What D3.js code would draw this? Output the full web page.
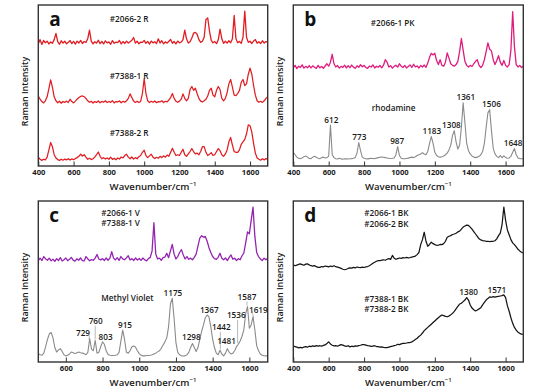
<!DOCTYPE html>
<html><head><meta charset="utf-8">
<script src="https://cdn.jsdelivr.net/npm/d3@7/dist/d3.min.js"></script>
<style>body{margin:0;background:#fff}svg{display:block}text{font-family:"Open Sans",sans-serif}</style>
</head><body><svg id="chart" width="554" height="392"></svg>
<script>
// ---- wavenumber grids (cm^-1) ----
const waveNumbers = [
400,410,420,430,440,450,460,470,480,490,
500,510,520,530,540,550,560,570,580,590,
600,610,620,630,640,650,660,670,680,690,
700,710,720,730,740,750,760,770,780,790,
800,810,820,830,840,850,860,870,880,890,
900,910,920,930,940,950,960,970,980,990,
1000,1010,1020,1030,1040,1050,1060,1070,1080,1090,
1100,1110,1120,1130,1140,1150,1160,1170,1180,1190,
1200,1210,1220,1230,1240,1250,1260,1270,1280,1290,
1300,1310,1320,1330,1340,1350,1360,1370,1380,1390,
1400,1410,1420,1430,1440,1450,1460,1470,1480,1490,
1500,1510,1520,1530,1540,1550,1560,1570,1580,1590,
1600,1610,1620,1630,1640,1650,1660,1670,1680,1690,
1700];
const waveNumbersC = waveNumbers.slice(5); // 450 .. 1700

// ---- panel a : red samples ----
const red2066_2 = [
76,78.5,75.5,78,76.5,77.5,75.8,77,76.2,78.5,
82.3,77.2,75.6,77.8,76.3,77.5,75.9,76.8,77.9,76,
77.4,75.7,77.6,76.4,78,76.1,77.3,76.8,79,84.4,
77.5,75.8,77.2,76.3,78.1,76,77.4,75.9,77.7,76.5,
77.1,75.6,77.9,76.2,77,76.6,78,75.8,77.3,76.1,
77.6,76.4,77.2,78.1,79.8,76.3,77.5,75.9,77,76.8,
78,76.2,77.4,75.7,77.6,76.5,77.2,76,79,76.4,
77.8,75.9,77.1,76.3,77.5,78.6,76.2,77.3,75.8,77.6,
76.5,77,78.5,84.4,79,76.4,77.2,79.5,82.5,83,
81.8,78.5,76.8,77.5,80,91,92,84,78,76.5,
77.3,76,78.5,85,79,76.2,77.5,76.3,77.8,76.5,
79,93.5,79,76.6,77.4,76.2,80,96.2,80,76.8,
77.5,76.1,77.6,78.5,76.3,77.2,76,77.8,76.4,77.3,
76.8];
const red7388_1 = [
43.5,41.5,40,39.2,40.5,43,48,53.5,49,43,
40.5,39.3,40.2,39,40.1,39.5,40.3,39.4,41.5,40,
39.2,40.3,41.5,42.5,43.2,43.5,43,42,40.5,39.6,
40.2,39.1,40,39.5,40.4,39.3,40.1,39.6,40.5,39.4,
40.1,39.5,40.6,39.2,40,39.8,40.4,39.3,40.2,39.6,
40.5,42,44.8,42.5,40.3,39.5,40.2,39.4,40.1,45,
54.2,45,40.5,39.4,40.2,39.6,40.4,39.3,40,39.8,
40.5,39.4,40.2,39.8,41,42.5,45,42,40.2,39.6,
40.3,41.5,44.8,42,40.5,42,47.5,49.4,47,48.3,
45,42,40.3,39.8,40.5,41.5,43.5,47,48.3,44,
43,47,49.4,47.5,42,40.5,42,45.5,51,53.75,
49,44,43.75,45,47,52,53.75,50,51,57,
60.8,57,50,44,40.5,39.6,40.2,39.5,40.5,42,
43];
const red7388_2 = [
5.5,4.2,3.5,4.2,3.8,5.5,10,14.6,12,7,
5,4,3.5,4.2,3.6,4.3,3.8,4.5,3.7,4.4,
3.9,4.6,5.2,6,7.3,6.2,7,5.5,4.2,4.8,
4,4.5,5.5,7,8.7,6,4.5,5.2,4.3,5,
4.2,5.5,4.1,4.8,3.9,5,4.3,5.6,5,6.5,
7.3,5.5,4.5,5.6,4.3,5.2,4.5,5.8,6.5,8.5,
9.8,6.5,5.2,6.3,7.3,5.5,4.6,5.4,4.8,6,
5.2,6.3,5.5,6.8,6,8.5,11,8.5,6.5,7,
6.5,8.5,10.4,7,6,7.5,9,10.8,9,7.5,
8,7,9,12,12,8.5,6.5,7.3,8.3,6.5,
7,9,10.8,9.5,7,6,7.5,10,15,17.7,
13,9,8.5,8.4,10,13.5,15,16.5,20,25.6,
25,21,14,8,5,4.2,3.6,4.5,3.8,4.6,
4];

// ---- panel b : pink sample and rhodamine reference ----
const pink2066_1 = [
61,62.5,60.5,62,61.2,62.8,60.8,61.9,61,62.4,
60.9,62.2,61.3,60.6,62.5,61,61.8,60.7,62.1,63.5,
62,64.5,69.4,63.5,61.5,62.4,60.8,61.9,61.2,62.6,
60.9,62.3,61.1,62.7,61.4,60.7,62.2,61.3,62.9,61.6,
62.5,61.2,60.6,62.1,61.5,62.8,60.9,62,61.3,62.4,
61,62.6,66,64.5,61.5,62.3,60.8,61.9,62.6,61.4,
63.5,62,61.2,62.5,60.9,61.8,62.8,61.2,63.2,61.6,
62.1,60.9,62.4,61.5,62.7,61.3,64,67.5,70,69,
70,65.5,63,66,62.5,62,64.5,70.2,67,63.5,
62.5,62,63,65,71,79.2,72,65,62.5,61.5,
62.5,61.8,63.5,65,66,62.5,61.2,62.5,66,71,
76.5,72.5,71.5,66,63,65.5,68.5,64.5,62.5,65.5,
62.5,61.5,63,72,95.8,74,63,61.5,62.4,61.2,
62];
const rhodamine = [
8.5,7,5.5,4.8,4.6,5,5.8,6.2,5.5,4.7,
4.6,5.5,6,5.5,4.8,4.5,5.2,5.5,5,5.2,
6,25.4,7,5.2,4.5,4.3,4.8,4.4,4.2,4.5,
4.4,4.3,4.5,4.6,4.8,5.2,8,14.6,9.5,5.5,
4.8,4.5,4.4,4.6,4.8,4.7,4.6,4.9,5.2,5.4,
5.6,5.4,5.2,5,4.8,4.7,4.8,5,7,12.1,
6.5,4.8,4.6,4.5,4.7,4.9,5.2,5.5,5.2,5.8,
6.5,7,7.5,8.2,7.5,7,9,14,18.3,14,
8.5,6.5,5.8,5.5,5.8,6.2,7,8,10,13,
19,21.9,15,10.5,13,24,39.2,27,14,9.5,
7.5,6.2,5.5,5.2,5.5,6,7,9,14,24,
33,35,22,11,7.5,6,5.2,6.5,5.2,6.3,
5.3,4.8,5,6,8.5,10.8,7,5,4.6,4.5,
4.5];
const rhodaminePeaks = [612,773,987,1183,1308,1361,1506,1648];

// ---- panel c : violet sample and methyl violet reference (450..1700) ----
const violet2066_7388 = [
63,64.5,63,65.5,64,
63.2,64.5,62.8,63.9,62.5,64.2,63,64.8,62.7,63.5,
64.6,62.9,63.8,65,63.3,62.6,64.1,63.2,64.7,63,
62.8,65.5,64,62.9,63.6,63.2,64.5,66.8,64,63.4,
64.2,63,64.6,63.2,64.5,68.5,64.5,63.4,64.8,63.1,
65.5,64,63.5,64.7,66,63.4,64.2,63,64.6,63.3,
64.3,63.1,64.6,63.4,62.8,64.2,65,69,86.5,67,
64,64.5,63.2,64.8,65.2,67.5,64.8,69,73,67,
64,65.5,68,69.8,66.5,64,65.5,63.8,64.5,63.5,
65,67,72,77,78.5,77.5,78,75,71,68,
65.5,64.2,63.8,65,67.5,64.5,63.5,64.6,63,65,
66.5,63.8,64.5,63,64.2,63.5,66,67.7,74,80.8,
79.6,88,96.2,78,68,65.5,64,63,64.5,63.5,
64.5];
const methylViolet = [
5.2,4.5,4.2,5.5,9.5,
14,17.5,18.3,15,9,6.2,7.5,8.3,6.5,4.5,
3.8,4.2,5,6.2,5.8,5.2,5.8,6.2,5.8,5.5,
5.2,4.5,6,14.6,8,7,13.5,5.5,6,9.5,
12.5,11,7,4.6,4.2,4,4,4.2,4.5,6,
13,19.8,14,6,5.5,7,9.5,10,9.2,7,
5.2,4.2,3.8,3.8,4,4,4.2,4.5,5,5.5,
6.3,7,8.5,10.5,12.5,15,22,36,39.6,27,
12,6,4.5,3.8,3.7,3.8,4.5,6,9,11.5,
9,6.5,9,14,19,23,27.5,29.2,28,22,
14,9,5.5,4.5,7.3,5,3.8,5.5,8.3,6,
5,5.5,7,9.5,11,13,16,20,30,34.4,
21,23,28,20,10,7,5,4.2,3.9,3.8,
3.8];
const methylVioletPeaks = [729,760,803,915,1175,1298,1367,1442,1481,1536,1587,1619];

// ---- panel d : black samples ----
const black2066 = [
60.4,59.8,60.2,60.6,60.9,60.5,60.1,60.8,61,60.3,
59.8,59.5,59.9,59.2,58.8,58.75,59.3,59.1,59.6,59.4,
59.1,59.6,59.3,59.8,59.2,58.9,58.6,58.2,57.6,57.3,
57.6,58.1,58.5,58.3,58.8,58.5,59,58.75,58.6,58.9,
58.7,59.1,59.3,59.8,60.5,61.3,62,62.6,63,62.9,
63.3,63.5,63.2,63.8,64.2,63.7,66.2,64.5,63.8,64.2,
64.6,64.4,64.8,64.6,65,64.7,64.9,65.2,65.5,65.8,
66.7,68,72.9,76,80.6,75,71.9,73,74.4,73.5,
72.9,72.5,72.6,73,72.9,73.5,75,77.5,78.1,78.5,
79.2,79.5,80,80.8,81.25,82.5,83.8,84.5,85,84.8,
83.75,82.5,81,79.5,78,76.5,75.8,75.4,75.2,75,
75,74.8,75,75,75.3,76.5,78.5,80,85.4,96.25,
88,82,79,76,74,72.9,71.5,70,69,68.2,
67.7];
const black7388 = [
10,9.5,9.2,8.8,9.1,8.75,9.3,9.6,9.2,9.8,
9.6,10,9.7,10.2,9.9,10.1,9.8,10.3,10.6,11.5,
12.5,11.2,10.4,10,10.2,9.8,10.3,10.8,10.5,10,
9.7,10.1,9.4,9.8,9.6,10,9.9,10.2,10.4,10.8,
10.8,10.5,10.2,10,9.7,9.9,10.1,9.6,9.5,9.2,
9.4,9.1,9,8.9,9.2,9.5,9.8,10.2,10.4,11,
10.8,11.3,11.6,11.5,11.8,12,12.1,12.5,13.2,14,
14.8,15.8,16.7,18,19.5,20.5,21.5,22.5,23.5,24.5,
25.5,26.5,27.5,28.5,29.2,28.8,28.3,28.1,28.5,29.3,
30.2,31.5,33,34.5,36,36.5,37.5,38.5,40,38.5,
35.4,33.5,32.5,31.7,32.3,33,33.75,35.5,37,38.5,
39.5,40.4,40.2,40.6,40.3,40.6,40.8,41,41.2,41.7,
40,35,31.5,27.5,24,21.5,19.8,18.5,17.8,17.3,
17.1];
const blackPeaks = [1380,1571];

const ticksAB = [400,600,800,1000,1200,1400,1600];
const ticksC = [600,800,1000,1200,1400,1600];

// ---------------- drawing ----------------
const svg = d3.select("#chart");
const C = {red:"#e11d22", pink:"#df1b7c", purple:"#9424b0", gray:"#8a8a8a", black:"#151515", frame:"#333", text:"#1a1a1a"};

const panels = [
  {letter:"a", x0:38.3, y0:5, x1:267.7, y1:166, domain:[400,1700], ticks:ticksAB,
   series:[[waveNumbers,red2066_2,C.red,1.3],[waveNumbers,red7388_1,C.red,1.25],[waveNumbers,red7388_2,C.red,1.25]],
   labels:[["#2066-2 R",71.5,14.2],["#7388-1 R",71.5,71],["#7388-2 R",71.5,127.5]]},
  {letter:"b", x0:293.3, y0:5, x1:523.3, y1:166, domain:[400,1700], ticks:ticksAB,
   series:[[waveNumbers,pink2066_1,C.pink,1.3],[waveNumbers,rhodamine,C.gray,1.1]],
   labels:[["#2066-1 PK",77.5,18.3],["rhodamine",78.5,102.5]]},
  {letter:"c", x0:38.3, y0:201, x1:267.7, y1:362, domain:[450,1700], ticks:ticksC,
   series:[[waveNumbersC,violet2066_7388,C.purple,1.3],[waveNumbersC,methylViolet,C.gray,1.1]],
   labels:[["#2066-1 V",63,11.5],["#7388-1 V",63,22.2],["Methyl Violet",63,97]]},
  {letter:"d", x0:293.3, y0:201, x1:523.3, y1:362, domain:[400,1700], ticks:ticksAB,
   series:[[waveNumbers,black2066,C.black,1.25],[waveNumbers,black7388,C.black,1.25]],
   labels:[["#2066-1 BK",71,12],["#2066-2 BK",71,22.7],["#7388-1 BK",71,97.7],["#7388-2 BK",71,107.7]]}
];

panels.forEach(p => {
  const g = svg.append("g");
  const x = d3.scaleLinear().domain(p.domain).range([p.x0, p.x1]);
  const y = d3.scaleLinear().domain([0,100]).range([p.y1, p.y0]);
  p.x = x; p.y = y;
  const clipId = "clip" + p.letter;
  svg.append("clipPath").attr("id", clipId).append("rect")
    .attr("x", p.x0).attr("y", p.y0).attr("width", p.x1-p.x0).attr("height", p.y1-p.y0);
  const line = d3.line().x(d => x(d[0])).y(d => y(d[1]));
  p.series.forEach(([wn, vals, col, w]) => {
    g.append("path").datum(d3.zip(wn, vals))
      .attr("clip-path", `url(#${clipId})`)
      .attr("fill","none").attr("stroke", col).attr("stroke-width", w)
      .attr("stroke-linejoin","round").attr("d", line);
  });
  // axis with inward ticks
  const ax = g.append("g").attr("transform", `translate(0,${p.y1})`)
    .call(d3.axisBottom(x).tickValues(p.ticks).tickSizeInner(-4.5).tickSizeOuter(0).tickPadding(4).tickFormat(d3.format("d")));
  ax.select(".domain").remove();
  ax.selectAll(".tick line").attr("stroke", C.frame).attr("stroke-width", 1);
  ax.selectAll(".tick text").attr("font-size", 7.6).attr("font-weight", 700).attr("fill", C.text)
    .attr("font-family", '"Open Sans",sans-serif');
  // frame
  g.append("rect").attr("x", p.x0).attr("y", p.y0).attr("width", p.x1-p.x0).attr("height", p.y1-p.y0)
    .attr("fill","none").attr("stroke", C.frame).attr("stroke-width", 1.4);
  // panel letter
  g.append("text").attr("x", p.x0 + 11).attr("y", p.y0 + 21).text(p.letter)
    .attr("font-size", 19).attr("font-weight", 700).attr("fill", "#111");
  // axis titles
  const xt = g.append("text").attr("x", (p.x0+p.x1)/2).attr("y", p.y1 + 23.5).attr("text-anchor","middle")
    .attr("font-size", 9.6).attr("font-weight", 600).attr("fill", C.text);
  xt.append("tspan").text("Wavenumber/cm");
  xt.append("tspan").text("\u22121").attr("font-size", 6).attr("dy", -4);
  g.append("text").attr("transform", `translate(${p.x0-10.5},${(p.y0+p.y1)/2+6}) rotate(-90)`)
    .attr("text-anchor","middle").attr("font-size", 8.8).attr("font-weight", 600).attr("fill", C.text)
    .text("Raman Intensity");
  // sample labels
  p.labels.forEach(([t, dx, dy]) => {
    g.append("text").attr("x", p.x0 + dx).attr("y", p.y0 + dy + 3).text(t)
      .attr("font-size", 8.2).attr("font-weight", 600).attr("fill", C.text);
  });
});

// ---- peak annotations ----
function peakTop(wn, vals, w) {
  let m = -Infinity;
  wn.forEach((v,i) => { if (Math.abs(v - w) <= 10) m = Math.max(m, vals[i]); });
  return m;
}
// layout offsets: [dx px, gap px above peak top, leader line?]
const annLayout = {
  b: {612:[0.5,2],773:[0,2.5],987:[0,2.5],1183:[0,2.5],1308:[-2.5,2.5],1361:[2.5,3],1506:[2.5,3],1648:[-1,3]},
  c: {729:[-6.5,2,"L"],760:[0.5,16,"V"],803:[2.5,2],915:[1.4,2],1175:[1.6,2],1298:[-2.6,3],1367:[2.7,2],
      1442:[1,20,"V"],1481:[-1,4.6],1536:[-1.3,26,"V"],1587:[0,6.6,"V"],1619:[5.5,4,"D"]},
  d: {1380:[2,3],1571:[-3.6,2.5]}
};
function annotate(p, wn, vals, peaks, lay, size) {
  peaks.forEach(w => {
    const [dx, gap, lead] = lay[w];
    const px = p.x(w), top = p.y(peakTop(wn, vals, w));
    const by = top - gap;
    svg.append("text").attr("x", px + dx).attr("y", by).attr("text-anchor","middle")
      .attr("font-size", size).attr("font-weight", 600).attr("fill", C.text).text(w);
    if (lead === "V") {
      svg.append("line").attr("x1", px).attr("x2", px).attr("y1", by + 1.5).attr("y2", top - 1)
        .attr("stroke", "#999").attr("stroke-width", 0.7);
    } else if (lead === "L") {
      svg.append("line").attr("x1", px + dx + 6.5).attr("x2", px - 0.5).attr("y1", by - 1).attr("y2", top + 1)
        .attr("stroke", "#999").attr("stroke-width", 0.7);
    } else if (lead === "D") {
      svg.append("line").attr("x1", px + dx - 6.5).attr("x2", px + 0.8).attr("y1", by - 3).attr("y2", top + 1)
        .attr("stroke", "#999").attr("stroke-width", 0.7);
    }
  });
}
annotate(panels[1], waveNumbers, rhodamine, rhodaminePeaks, annLayout.b, 8.2);
annotate(panels[2], waveNumbersC, methylViolet, methylVioletPeaks, annLayout.c, 8.2);
annotate(panels[3], waveNumbers, black7388, blackPeaks, annLayout.d, 8.2);
</script></body></html>
